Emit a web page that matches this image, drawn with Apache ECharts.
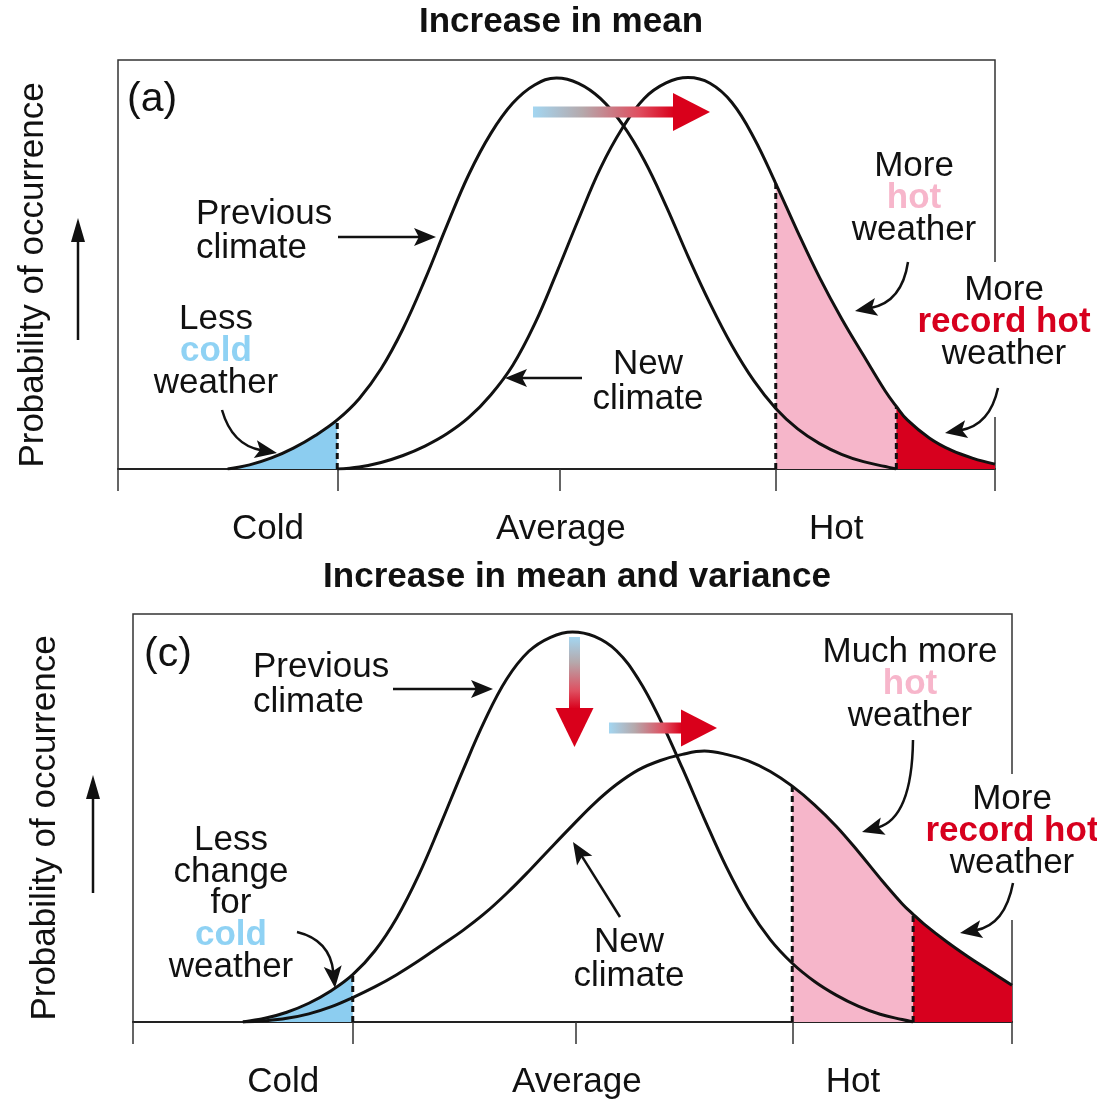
<!DOCTYPE html>
<html><head><meta charset="utf-8">
<script src="https://cdn.jsdelivr.net/npm/echarts@6/dist/echarts.min.js"></script>
<style>html,body{margin:0;padding:0;background:#fff}#c{width:1097px;height:1101px}</style>
</head><body><div id="c"></div>
<script>
// ---------- data (x: 0 = left edge of axis, 100 = right edge; y: relative probability) ----------
const xs = [0,2.5,5,7.5,10,12.5,15,17.5,20,22.5,25,27.5,30,32.5,35,37.5,40,42.5,45,47.5,50,52.5,55,57.5,60,62.5,65,67.5,70,72.5,75,77.5,80,82.5,85,87.5,88.75,90,92.5,95,97.5,100];

const topPrevious = [null,null,null,null,null,0,1.0,2.7,5.1,8.2,12.0,17.2,24.5,34.3,46.3,59.5,72.0,82.0,89.4,93.9,95.6,94.3,90.6,84.3,75.5,64.3,52.0,40.5,30.2,21.6,14.8,9.8,6.2,3.6,1.8,0.6,0,null,null,null,null,null];
const topNew = [null,null,null,null,null,null,null,null,null,null,0,0.5,1.6,3.3,5.6,8.6,12.6,18.1,25.3,35.4,47.9,61.0,73.5,83.3,90.6,94.4,95.7,94.3,89.6,81.0,69.8,58.0,46.8,36.8,27.8,19.0,15.3,12.0,7.6,4.6,2.6,1.2];

const bottomPrevious = [null,null,null,null,null,0,0.9,2.4,4.6,7.6,11.6,17.4,25.5,36.0,48.5,61.5,73.8,84.0,90.8,94.3,95.6,94.5,91.0,84.0,74.0,62.2,49.8,38.0,28.0,20.2,14.4,10.0,6.6,3.9,1.9,0.6,0,null,null,null,null,null];
const bottomNew = [null,null,null,null,null,0,0.3,0.9,2.0,3.7,6.0,8.6,11.6,15.0,18.7,22.4,26.6,31.5,36.9,42.6,48.2,53.6,58.2,61.8,64.1,65.6,66.4,65.6,64.0,61.4,57.8,53.3,48.0,41.8,35.2,29.0,26.4,24.0,19.8,16.0,12.5,9.0];

const tickValues = [0, 25, 50.4, 75, 100];
const labelValues = [17.1, 50.5, 81.9];
const tickLabels = ['Cold', 'Average', 'Hot'];
const coldLimit = 25, hotLimit = 75, recordLimit = 88.75;
const panelTitles = ['Increase in mean', 'Increase in mean and variance'];

// ---------- styles ----------
const FONT = "'Liberation Sans', Arial, Helvetica, sans-serif";
const BLUE = '#8ccdf0', PINK = '#f6b6ca', RED = '#d7001e';
const BLUE_TXT = '#8fd2f4', PINK_TXT = '#f7b6cb';
const INK = '#111';
const FS = 35;

function pairs(arr, lo, hi) {
  const out = [];
  xs.forEach((x, i) => { if (arr[i] != null && x >= lo && x <= hi) out.push([x, arr[i]]); });
  return out;
}
function valAt(arr, x) { return arr[xs.indexOf(x)]; }

function panelSeries(idx, prev, neu) {
  const base = { type: 'line', xAxisIndex: idx, yAxisIndex: idx, symbol: 'none', smooth: 0.4, silent: true, animation: false };
  const fill = (data, color) => Object.assign({}, base, { data, lineStyle: { width: 0, opacity: 0 }, areaStyle: { color, opacity: 1 }, z: 1 });
  const dashed = (x, v) => Object.assign({}, base, { smooth: false, data: [[x, 0], [x, v]], lineStyle: { color: INK, width: 3, type: [6, 4] }, z: 3 });
  const curve = (arr) => Object.assign({}, base, { data: pairs(arr, 0, 100), lineStyle: { color: INK, width: 3 }, z: 5 });
  return [
    fill(pairs(prev, 0, coldLimit), BLUE),
    fill(pairs(neu, hotLimit, recordLimit), PINK),
    fill(pairs(neu, recordLimit, 100), RED),
    dashed(coldLimit, valAt(prev, coldLimit)),
    dashed(hotLimit, valAt(neu, hotLimit)),
    dashed(recordLimit, valAt(neu, recordLimit)),
    curve(prev),
    curve(neu)
  ];
}

function xAxis(i) {
  return {
    gridIndex: i, type: 'value', min: 0, max: 100,
    axisLine: { show: true, lineStyle: { color: '#222', width: 2 } },
    axisTick: { show: true, customValues: tickValues, length: 22, inside: false, lineStyle: { color: '#333', width: 1.5 } },
    axisLabel: { show: true, customValues: labelValues, margin: 43, fontSize: FS, color: INK, fontFamily: FONT,
      formatter: v => { const k = labelValues.indexOf(v); return k >= 0 ? tickLabels[k] : ''; } },
    splitLine: { show: false }
  };
}
function yAxis(i) {
  return { gridIndex: i, type: 'value', min: 0, max: 100, show: false };
}

// ---------- annotation helpers ----------
function text(x, y, s, o) {
  o = o || {};
  const al = o.align || 'center';
  return { type: 'text', x, y, z: 30, rotation: o.rot || 0, silent: true,
    style: { text: s, fill: o.color || INK, font: (o.bold ? 'bold ' : '') + (o.size || FS) + 'px ' + FONT,
      align: al, verticalAlign: 'middle', textAlign: al, textVerticalAlign: 'middle' } };
}
function head(tx, ty, fx, fy, L, W) {
  L = L || 22; W = W || 9;
  const dx = tx - fx, dy = ty - fy, len = Math.hypot(dx, dy), ux = dx / len, uy = dy / len;
  const bx = tx - ux * L, by = ty - uy * L;
  return { type: 'polygon', z: 25, silent: true,
    shape: { points: [[tx, ty], [bx - uy * W, by + ux * W], [tx - ux * L * 0.78, ty - uy * L * 0.78], [bx + uy * W, by - ux * W]] },
    style: { fill: INK } };
}
function straightArrow(x1, y1, x2, y2) {
  const dx = x2 - x1, dy = y2 - y1, len = Math.hypot(dx, dy);
  const ex = x2 - dx / len * 16, ey = y2 - dy / len * 16;
  return [
    { type: 'line', z: 24, silent: true, shape: { x1, y1, x2: ex, y2: ey }, style: { stroke: INK, lineWidth: 2.5 } },
    head(x2, y2, x1, y1)
  ];
}
function curveArrow(sx, sy, cx, cy, tx, ty) {
  const dx = tx - cx, dy = ty - cy, len = Math.hypot(dx, dy);
  const ex = tx - dx / len * 16, ey = ty - dy / len * 16;
  return [
    { type: 'bezierCurve', z: 24, silent: true, shape: { x1: sx, y1: sy, x2: ex, y2: ey, cpx1: cx, cpy1: cy },
      style: { stroke: INK, lineWidth: 2.5, fill: 'none' } },
    head(tx, ty, cx, cy)
  ];
}
const gradStops = [
  { offset: 0, color: '#a3d6f1' }, { offset: 0.35, color: '#b5a9ac' },
  { offset: 0.75, color: '#df4f60' }, { offset: 1, color: '#d9001b' }
];
function gradArrowH(x0, x1, xt, yc, t, hw) {
  return [
    { type: 'rect', z: 26, silent: true, shape: { x: x0, y: yc - t / 2, width: x1 - x0 + 1, height: t },
      style: { fill: { type: 'linear', x: 0, y: 0, x2: 1, y2: 0, colorStops: gradStops } } },
    { type: 'polygon', z: 26, silent: true, shape: { points: [[x1, yc - hw], [xt, yc], [x1, yc + hw]] }, style: { fill: '#d9001b' } }
  ];
}
function gradArrowV(xc, y0, y1, yt, t, hw) {
  return [
    { type: 'rect', z: 26, silent: true, shape: { x: xc - t / 2, y: y0, width: t, height: y1 - y0 + 1 },
      style: { fill: { type: 'linear', x: 0, y: 0, x2: 0, y2: 1, colorStops: gradStops } } },
    { type: 'polygon', z: 26, silent: true, shape: { points: [[xc - hw, y1], [xc, yt], [xc + hw, y1]] }, style: { fill: '#d9001b' } }
  ];
}
function upArrow(x, yBottom, yTip) {
  return [
    { type: 'line', z: 24, silent: true, shape: { x1: x, y1: yBottom, x2: x, y2: yTip + 18 }, style: { stroke: INK, lineWidth: 2.5 } },
    { type: 'polygon', z: 25, silent: true, shape: { points: [[x, yTip], [x - 7, yTip + 24], [x + 7, yTip + 24]] }, style: { fill: INK } }
  ];
}
function mask(x, y, w, h) {
  return { type: 'rect', z: 20, silent: true, shape: { x, y, width: w, height: h }, style: { fill: '#fff' } };
}

const graphics = [].concat(
  // ---- panel (a) ----
  text(561, 22, panelTitles[0], { bold: true, size: 35 }),
  text(127, 100, '(a)', { align: 'left', size: 41 }),
  text(33, 275, 'Probability of occurrence', { rot: Math.PI / 2 }),
  upArrow(78, 340, 218),
  text(196, 214, 'Previous', { align: 'left' }),
  text(196, 248, 'climate', { align: 'left' }),
  straightArrow(338, 237, 436, 237),
  text(216, 319, 'Less'),
  text(216, 351, 'cold', { bold: true, color: BLUE_TXT }),
  text(216, 383, 'weather'),
  curveArrow(222, 410, 232, 445, 277, 453),
  text(648, 364, 'New'),
  text(648, 399, 'climate'),
  straightArrow(582, 378, 505, 378),
  mask(990, 262, 10, 155),
  text(914, 166, 'More'),
  text(914, 198, 'hot', { bold: true, color: PINK_TXT }),
  text(914, 230, 'weather'),
  curveArrow(908, 262, 902, 302, 855, 311),
  text(1004, 290, 'More'),
  text(1004, 322, 'record hot', { bold: true, color: RED }),
  text(1004, 354, 'weather'),
  curveArrow(998, 388, 990, 425, 945, 433),
  gradArrowH(533, 673, 710, 112, 11, 19),

  // ---- panel (c) ----
  text(577, 577, panelTitles[1], { bold: true, size: 35 }),
  text(144, 655, '(c)', { align: 'left', size: 41 }),
  text(45, 828, 'Probability of occurrence', { rot: Math.PI / 2 }),
  upArrow(93, 893, 775),
  text(253, 667, 'Previous', { align: 'left' }),
  text(253, 702, 'climate', { align: 'left' }),
  straightArrow(393, 689, 493, 689),
  text(231, 840, 'Less'),
  text(231, 872, 'change'),
  text(231, 903, 'for'),
  text(231, 935, 'cold', { bold: true, color: BLUE_TXT }),
  text(231, 967, 'weather'),
  curveArrow(297, 932, 330, 940, 335, 988),
  text(629, 942, 'New'),
  text(629, 976, 'climate'),
  straightArrow(620, 917, 573, 842),
  mask(1007, 774, 10, 146),
  text(910, 652, 'Much more'),
  text(910, 684, 'hot', { bold: true, color: PINK_TXT }),
  text(910, 716, 'weather'),
  curveArrow(913, 740, 912, 818, 862, 832),
  text(1012, 799, 'More'),
  text(1012, 831, 'record hot', { bold: true, color: RED }),
  text(1012, 863, 'weather'),
  curveArrow(1013, 883, 1005, 925, 960, 933),
  gradArrowV(574.5, 637, 708, 747, 11, 19),
  gradArrowH(609, 681, 717, 728, 11, 18.5)
);

const chart = echarts.init(document.getElementById('c'), null, { renderer: 'canvas' });
chart.setOption({
  backgroundColor: '#fff',
  animation: false,
  grid: [
    { left: 118, top: 60, width: 877, height: 409, show: true, borderColor: '#333', borderWidth: 1.5, backgroundColor: 'transparent' },
    { left: 133, top: 614, width: 879, height: 408, show: true, borderColor: '#333', borderWidth: 1.5, backgroundColor: 'transparent' }
  ],
  xAxis: [xAxis(0), xAxis(1)],
  yAxis: [yAxis(0), yAxis(1)],
  series: [].concat(panelSeries(0, topPrevious, topNew), panelSeries(1, bottomPrevious, bottomNew)),
  graphic: { elements: graphics }
});
</script>
</body></html>
